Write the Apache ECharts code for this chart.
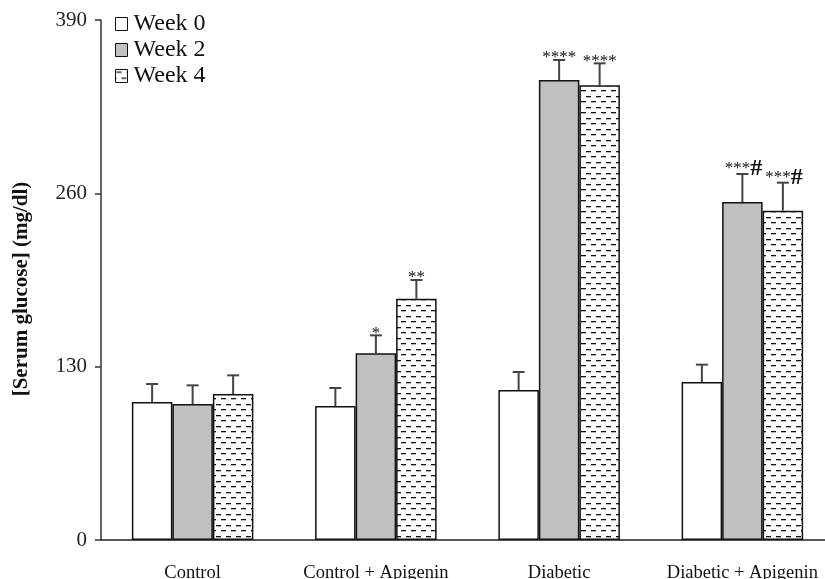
<!DOCTYPE html>
<html>
<head>
<meta charset="utf-8">
<script src="https://cdn.jsdelivr.net/npm/echarts@6/dist/echarts.min.js"></script>
<style>
  html, body { margin: 0; padding: 0; background: #fff; }
  #chart { width: 825px; height: 579px; }
</style>
</head>
<body>
<div id="chart"></div>
<script>
// Serum glucose (mg/dl) per group at weeks 0, 2 and 4
const categories = ['Control', 'Control + Apigenin', 'Diabetic', 'Diabetic + Apigenin'];
const week0 = [103.5, 100.5, 112.5, 118.5];
const week2 = [102, 140, 345, 253.5];
const week4 = [109.5, 181, 341, 247];
const err0 = [13.5, 13.5, 13.5, 13];
const err2 = [14, 13.5, 15, 21];
const err4 = [14, 14, 16.5, 21];
const marks0 = ['', '', '', ''];
const marks2 = ['', '*', '****', '***#'];
const marks4 = ['', '**', '****', '***#'];
const yTicks = [0, 130, 260, 390];

const FONT = '"Liberation Serif", "Times New Roman", serif';
const BAR_W = 40.5;

// dashed-row fill for the week 4 bars
function makeDashPattern() {
  const c = document.createElement('canvas');
  c.width = 10; c.height = 11;
  const ctx = c.getContext('2d');
  ctx.fillStyle = '#fff';
  ctx.fillRect(0, 0, 10, 11);
  ctx.fillStyle = '#111';
  ctx.fillRect(1, 2, 5, 1.3);
  ctx.fillRect(6, 8, 4, 1.3);
  ctx.fillRect(0, 8, 1, 1.3);
  return c;
}
const dashPattern = { image: makeDashPattern(), repeat: 'repeat' };

function errorSeries(name, values, errs, marks, offsetIdx) {
  return {
    type: 'custom',
    name: name + ' err',
    z: 5,
    silent: true,
    data: values.map((v, i) => [i, v, errs[i]]),
    renderItem: function (params, api) {
      const i = api.value(0);
      const v = api.value(1);
      const e = api.value(2);
      const top = api.coord([i, v]);
      const cap = api.coord([i, v + e]);
      const x = top[0] + offsetIdx * BAR_W;
      const mark = marks[params.dataIndex];
      const children = [
        { type: 'line', shape: { x1: x, y1: top[1], x2: x, y2: cap[1] },
          style: { stroke: '#444', lineWidth: 2 } },
        { type: 'line', shape: { x1: x - 6, y1: cap[1], x2: x + 6, y2: cap[1] },
          style: { stroke: '#444', lineWidth: 2 } }
      ];
      if (mark) {
        const stars = mark.replace('#', '');
        const hash = mark.indexOf('#') >= 0;
        children.push({
          type: 'text',
          style: {
            x: x + (hash ? 1 : 0), y: cap[1] - (hash ? 5 : 2),
            text: '{s|' + stars + '}' + (hash ? '{h|#}' : ''),
            align: 'center', verticalAlign: 'middle',
            rich: {
              s: { fontFamily: FONT, fontSize: 17, fill: '#111' },
              h: { fontFamily: FONT, fontSize: 24, fontWeight: 'bold', fill: '#111' }
            }
          }
        });
      }
      return { type: 'group', children: children };
    }
  };
}

const chart = echarts.init(document.getElementById('chart'), null, { renderer: 'canvas' });
chart.setOption({
  animation: false,
  backgroundColor: '#fff',
  grid: { left: 101, width: 733, top: 20, bottom: 39, containLabel: false, outerBoundsMode: 'none' },
  legend: {
    orient: 'vertical',
    left: 110, top: 7,
    itemWidth: 12, itemHeight: 13, itemGap: 2,
    icon: 'rect',
    data: ['Week 0', 'Week 2', 'Week 4'],
    itemStyle: { borderWidth: 1 },
    textStyle: { fontFamily: FONT, fontSize: 24, color: '#111', padding: [0, 0, 0, 1] }
  },
  xAxis: {
    type: 'category',
    data: categories,
    axisTick: { show: false },
    axisLine: { lineStyle: { color: '#222', width: 1.5 } },
    axisLabel: { fontFamily: FONT, fontSize: 18.5, color: '#111', margin: 24, interval: 0 }
  },
  yAxis: {
    type: 'value',
    min: yTicks[0], max: yTicks[yTicks.length - 1], interval: 130,
    splitLine: { show: false },
    axisLine: { show: true, lineStyle: { color: '#333', width: 1.5 } },
    axisTick: { show: true, length: 6, lineStyle: { color: '#333', width: 1.5 } },
    axisLabel: { fontFamily: FONT, fontSize: 21, color: '#222', margin: 14 },
    name: '[Serum glucose] (mg/dl)',
    nameLocation: 'middle',
    nameGap: 69,
    nameTextStyle: { fontFamily: FONT, fontSize: 21, fontWeight: 'bold', color: '#111', padding: [0, 18, 0, 0] }
  },
  series: [
    { type: 'bar', name: 'Week 0', data: week0, barWidth: BAR_W, barGap: '0%',
      itemStyle: { color: '#fff', borderColor: '#111', borderWidth: 1.5 } },
    { type: 'bar', name: 'Week 2', data: week2, barWidth: BAR_W, barGap: '0%',
      itemStyle: { color: '#c0c0c0', borderColor: '#111', borderWidth: 1.5 } },
    { type: 'bar', name: 'Week 4', data: week4, barWidth: BAR_W, barGap: '0%',
      itemStyle: { color: dashPattern, borderColor: '#111', borderWidth: 1.5 } },
    errorSeries('Week 0', week0, err0, marks0, -1),
    errorSeries('Week 2', week2, err2, marks2, 0),
    errorSeries('Week 4', week4, err4, marks4, 1)
  ]
});
</script>
</body>
</html>
